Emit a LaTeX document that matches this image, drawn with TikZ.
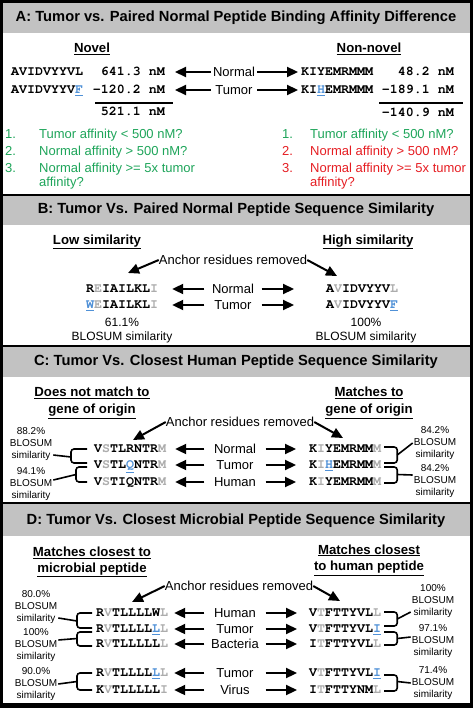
\documentclass[tikz,border=0pt]{standalone}
\usepackage[T1,TU]{fontenc}
\usepackage{fontspec}
\setmainfont{Liberation Sans}
\usepackage{tikz}
\usetikzlibrary{arrows.meta,calc}
\definecolor{hdrgray}{RGB}{194,194,194}
\definecolor{okgreen}{RGB}{30,165,90}
\definecolor{nored}{RGB}{230,30,35}
\definecolor{anchgray}{RGB}{172,172,172}
\definecolor{mutblue}{RGB}{80,145,215}
\newcommand\seqfont{\fontencoding{T1}\fontfamily{pcr}\fontseries{b}\selectfont}
\newcommand\anc[1]{\textcolor{anchgray}{#1}}
\newcommand\mut[1]{{\color{mutblue}\underline{#1}}}

\begin{document}
\begin{tikzpicture}[x=1pt,y=-1pt,
        hdr/.style={font=\fontsize{14.7}{17}\selectfont\bfseries},
        ttl/.style={font=\fontsize{13.2}{16.5}\selectfont\bfseries,align=center,inner sep=1pt},
        seq/.style={font=\seqfont\fontsize{13.3}{16}\selectfont,inner sep=1pt,text height=7.6pt,text depth=0pt},
        lbl/.style={font=\fontsize{13}{16}\selectfont,inner sep=0pt,text height=9.4pt,text depth=0pt},
        lst/.style={font=\fontsize{13}{14.5}\selectfont,align=left,inner sep=0pt,anchor=base west},
        pct/.style={font=\fontsize{10}{12}\selectfont,align=center,inner sep=1pt},
        bsim/.style={font=\fontsize{12}{14}\selectfont,align=center,inner sep=1pt},
        arr/.style={line width=2.2pt,-{Triangle[length=11pt,width=10pt]}},
        brk/.style={line width=1.6pt,rounded corners=3pt}]
    \useasboundingbox (0,0) rectangle (473,708);
    \fill[black] (0,0) rectangle (473,708);
    \fill[white] (3,3) rectangle (470,194);
    \fill[white] (3,196) rectangle (470,345);
    \fill[white] (3,347) rectangle (470,502);
    \fill[white] (3,504) rectangle (470,703);
    \fill[hdrgray] (3,3) rectangle (470,33);
    \fill[hdrgray] (3,196) rectangle (470,225);
    \fill[hdrgray] (3,347) rectangle (470,377);
    \fill[hdrgray] (3,504) rectangle (470,536);

    \node[hdr] (ha) at (236,18) {A: Tumor vs. Paired Normal Peptide Binding Affinity Difference};
    \node[hdr] (hb) at (236,210) {B: Tumor Vs. Paired Normal Peptide Sequence Similarity};
    \node[hdr] (hc) at (236,362) {C: Tumor Vs. Closest Human Peptide Sequence Similarity};
    \node[hdr] (hd) at (236,521) {D: Tumor Vs. Closest Microbial Peptide Sequence Similarity};

    \node[ttl] (nov) at (92,49) {\underline{Novel}};
    \node[ttl] (nnv) at (369,49) {\underline{Non-novel}};
    \node[seq,anchor=west] (pa1) at (10,72) {AVIDVYYVL};
    \node[seq,anchor=west] (pa2) at (10,90) {AVIDVYYV\mut{F}};
    \node[seq,anchor=east] (va1) at (166,72) {641.3 nM};
    \node[seq,anchor=east] (va2) at (166,90) {-120.2 nM};
    \node[seq,anchor=east] (va3) at (166,112) {521.1 nM};
    \node[lbl,minimum width=46pt] (la1) at (234,72) {Normal};
    \node[lbl,minimum width=46pt] (la2) at (234,90) {Tumor};
    \node[seq,anchor=west] (pa3) at (300,72) {KIYEMRMMM};
    \node[seq,anchor=west] (pa4) at (300,90) {KI\mut{H}EMRMMM};
    \node[seq,anchor=east] (va4) at (455,72) {48.2 nM};
    \node[seq,anchor=east] (va5) at (455,90) {-189.1 nM};
    \node[seq,anchor=east] (va6) at (455,113) {-140.9 nM};
    \draw[arr,shorten >=9pt] (la1) -- (va1);
    \draw[arr,shorten >=9pt] (la2) -- (va2);
    \draw[arr,shorten >=2pt] (la1) -- (pa3);
    \draw[arr,shorten >=2pt] (la2) -- (pa4);
    \draw[line width=1.5pt] (95,103) -- (173,103);
    \draw[line width=1.5pt] (379,103) -- (463,103);

    \node[lst,text=okgreen] (n1) at (5,139) {1.};
    \node[lst,text=okgreen] (q1) at (39,139) {Tumor affinity < 500 nM?};
    \node[lst,text=okgreen] (n2) at (5,156) {2.};
    \node[lst,text=okgreen] (q2) at (39,156) {Normal affinity > 500 nM?};
    \node[lst,text=okgreen] (n3) at (5,172.5) {3.};
    \node[lst,text=okgreen] (q3) at (39,187) {Normal affinity >= 5x tumor\\affinity?};
    \node[lst,text=okgreen] (n4) at (282,139) {1.};
    \node[lst,text=okgreen] (q4) at (310,139) {Tumor affinity < 500 nM?};
    \node[lst,text=nored] (n5) at (282,156) {2.};
    \node[lst,text=nored] (q5) at (310,156) {Normal affinity > 500 nM?};
    \node[lst,text=nored] (n6) at (282,172.5) {3.};
    \node[lst,text=nored] (q6) at (310,187) {Normal affinity >= 5x tumor\\affinity?};

    \node[ttl] (los) at (97,242) {\underline{Low similarity}};
    \node[ttl] (his) at (368,242) {\underline{High similarity}};
    \node[lbl] (anb) at (233,260) {Anchor residues removed};
    \node[seq,anchor=west] (sb1) at (85,289) {R\anc{E}IAILKL\anc{I}};
    \node[seq,anchor=west] (sb2) at (85,305) {\mut{W}\anc{E}IAILKL\anc{I}};
    \node[seq,anchor=west] (sb3) at (325,289) {A\anc{V}IDVYYV\anc{L}};
    \node[seq,anchor=west] (sb4) at (325,305) {A\anc{V}IDVYYV\mut{F}};
    \node[lbl,minimum width=57pt] (lb1) at (233,289) {Normal};
    \node[lbl,minimum width=57pt] (lb2) at (233,305) {Tumor};
    \node[bsim] (bs1) at (122,331) {61.1\%\\BLOSUM similarity};
    \node[bsim] (bs2) at (366,331) {100\%\\BLOSUM similarity};
    \coordinate (tb1) at (128,273);
    \coordinate (tb2) at (337,276);
    \draw[arr,line width=2pt] (anb.west) -- (tb1);
    \draw[arr,line width=2pt] (anb.east) -- (tb2);
    \draw[arr,shorten >=13pt] (lb1) -- (sb1);
    \draw[arr,shorten >=13pt] (lb2) -- (sb2);
    \draw[arr,shorten >=31pt] (lb1) -- (sb3);
    \draw[arr,shorten >=31pt] (lb2) -- (sb4);

    \node[ttl,font=\fontsize{13.2}{17}\selectfont\bfseries] (dnm) at (92,403) {\underline{Does not match to}\\\underline{gene of origin}};
    \node[ttl,font=\fontsize{13.2}{17}\selectfont\bfseries] (mgo) at (369,403) {\underline{Matches to}\\\underline{gene of origin}};
    \node[lbl] (anc) at (240,422) {Anchor residues removed};
    \node[seq,anchor=west] (sc1) at (93,449) {V\anc{S}TLRNTR\anc{M}};
    \node[seq,anchor=west] (sc2) at (93,465) {V\anc{S}TL\mut{Q}NTR\anc{M}};
    \node[seq,anchor=west] (sc3) at (93,482) {V\anc{S}TIQNTR\anc{M}};
    \node[seq,anchor=west] (sc4) at (308,449) {K\anc{I}YEMRMM\anc{M}};
    \node[seq,anchor=west] (sc5) at (308,465) {K\anc{I}\mut{H}EMRMM\anc{M}};
    \node[seq,anchor=west] (sc6) at (308,482) {K\anc{I}YEMRMM\anc{M}};
    \node[lbl,minimum width=61pt] (lc1) at (235,449) {Normal};
    \node[lbl,minimum width=61pt] (lc2) at (235,465) {Tumor};
    \node[lbl,minimum width=61pt] (lc3) at (235,482) {Human};
    \coordinate (tc1) at (133,440);
    \coordinate (tc2) at (343,438);
    \draw[arr,line width=2pt] (anc.west) -- (tc1);
    \draw[arr,line width=2pt] (anc.east) -- (tc2);
    \draw[arr,shorten >=8pt] (lc1) -- (sc1);
    \draw[arr,shorten >=8pt] (lc2) -- (sc2);
    \draw[arr,shorten >=8pt] (lc3) -- (sc3);
    \draw[arr,shorten >=12pt] (lc1) -- (sc4);
    \draw[arr,shorten >=12pt] (lc2) -- (sc5);
    \draw[arr,shorten >=12pt] (lc3) -- (sc6);
    \node[pct] (pc1) at (31,444) {88.2\%\\BLOSUM\\similarity};
    \node[pct] (pc2) at (31,484) {94.1\%\\BLOSUM\\similarity};
    \node[pct] (pc3) at (435,443) {84.2\%\\BLOSUM\\similarity};
    \node[pct] (pc4) at (435,481) {84.2\%\\BLOSUM\\similarity};
    \draw[brk] ([xshift=-6pt]sc1.west) -| ([shift={(-22pt,2pt)}]sc2.west) -- ([shift={(-6pt,2pt)}]sc2.west);
    \draw[brk] ([yshift=-11pt]pc1.east) -- ($(sc1.west)!.5!(sc2.west)+(-22,0)$);
    \draw[brk] ([shift={(-6pt,-2pt)}]sc2.west) -| ([xshift=-17pt]sc3.west) -- ([xshift=-6pt]sc3.west);
    \draw[brk] ([yshift=4pt]pc2.east) -- ($(sc2.west)!.5!(sc3.west)+(-17,1)$);
    \draw[brk] ([shift={(2pt,2pt)}]sc4.east) -| ([shift={(15pt,2pt)}]sc5.east) -- ([shift={(2pt,2pt)}]sc5.east);
    \draw[brk] ($(sc4.east)!.5!(sc5.east)+(15,-2)$) -- (pc3.west);
    \draw[brk] ([shift={(2pt,-2pt)}]sc5.east) -| ([shift={(15pt,-1pt)}]sc6.east) -- ([shift={(2pt,-1pt)}]sc6.east);
    \draw[brk] ($(sc5.east)!.5!(sc6.east)+(15,1)$) -- ([yshift=6pt]pc4.west);

    \node[ttl,font=\fontsize{13.2}{15.5}\selectfont\bfseries] (mcm) at (92,562) {\underline{Matches closest to}\\\underline{microbial peptide}};
    \node[ttl] (mch) at (369,560) {\underline{Matches closest}\\\underline{to human peptide}};
    \node[lbl] (and) at (239,586) {Anchor residues removed};
    \node[seq,anchor=west] (sd1) at (95,613) {R\anc{V}TLLLLW\anc{L}};
    \node[seq,anchor=west] (sd2) at (95,629) {R\anc{V}TLLLL\mut{L}\anc{L}};
    \node[seq,anchor=west] (sd3) at (95,644) {R\anc{V}TLLLLL\anc{L}};
    \node[seq,anchor=west] (sd4) at (95,673) {R\anc{V}TLLLL\mut{L}\anc{L}};
    \node[seq,anchor=west] (sd5) at (95,690) {K\anc{V}TLLLLL\anc{I}};
    \node[seq,anchor=west] (sd6) at (308,613) {V\anc{T}FTTYVL\anc{L}};
    \node[seq,anchor=west] (sd7) at (308,629) {V\anc{T}FTTYVL\mut{I}};
    \node[seq,anchor=west] (sd8) at (308,644) {I\anc{T}FTTYVL\anc{L}};
    \node[seq,anchor=west] (sd9) at (308,673) {V\anc{T}FTTYVL\mut{I}};
    \node[seq,anchor=west] (sd10) at (308,690) {I\anc{T}FTTYNM\anc{L}};
    \node[lbl,minimum width=61pt] (ld1) at (235,613) {Human};
    \node[lbl,minimum width=61pt] (ld2) at (235,629) {Tumor};
    \node[lbl,minimum width=61pt] (ld3) at (235,644) {Bacteria};
    \node[lbl,minimum width=61pt] (ld4) at (235,673) {Tumor};
    \node[lbl,minimum width=61pt] (ld5) at (235,690) {Virus};
    \coordinate (td1) at (132,602);
    \coordinate (td2) at (340,601);
    \draw[arr,line width=2pt] (and.west) -- (td1);
    \draw[arr,line width=2pt] (and.east) -- (td2);
    \draw[arr,shorten >=5pt] (ld1) -- (sd1);
    \draw[arr,shorten >=5pt] (ld2) -- (sd2);
    \draw[arr,shorten >=5pt] (ld3) -- (sd3);
    \draw[arr,shorten >=5pt] (ld4) -- (sd4);
    \draw[arr,shorten >=5pt] (ld5) -- (sd5);
    \draw[arr,shorten >=11pt] (ld1) -- (sd6);
    \draw[arr,shorten >=11pt] (ld2) -- (sd7);
    \draw[arr,shorten >=11pt] (ld3) -- (sd8);
    \draw[arr,shorten >=11pt] (ld4) -- (sd9);
    \draw[arr,shorten >=11pt] (ld5) -- (sd10);
    \node[pct] (pd1) at (36,607) {80.0\%\\BLOSUM\\similarity};
    \node[pct] (pd2) at (36,645) {100\%\\BLOSUM\\similarity};
    \node[pct] (pd3) at (36,684) {90.0\%\\BLOSUM\\similarity};
    \node[pct] (pd4) at (433,601) {100\%\\BLOSUM\\similarity};
    \node[pct] (pd5) at (433,641) {97.1\%\\BLOSUM\\similarity};
    \node[pct] (pd6) at (433,683) {71.4\%\\BLOSUM\\similarity};
    \draw[brk] ([xshift=-3pt]sd1.west) -| ([shift={(-18pt,1pt)}]sd2.west) -- ([shift={(-3pt,1pt)}]sd2.west);
    \draw[brk] ([yshift=-11pt]pd1.east) -- ($(sd1.west)!.5!(sd2.west)+(-18,0)$);
    \draw[brk] ([shift={(-3pt,-3pt)}]sd2.west) -| ([shift={(-18pt,-2pt)}]sd3.west) -- ([shift={(-3pt,-2pt)}]sd3.west);
    \draw[brk] ([yshift=5pt]pd2.east) -- ($(sd2.west)!.5!(sd3.west)+(-18,2)$);
    \draw[brk] ([xshift=-3pt]sd4.west) -| ([xshift=-18pt]sd5.west) -- ([xshift=-3pt]sd5.west);
    \draw[brk] (pd3.east) -- ($(sd4.west)!.5!(sd5.west)+(-18,0)$);
    \draw[brk] ([shift={(2pt,1pt)}]sd6.east) -| ([shift={(15pt,3pt)}]sd7.east) -- ([shift={(2pt,3pt)}]sd7.east);
    \draw[brk] ($(sd6.east)!.5!(sd7.east)+(15,-2)$) -- ([yshift=-11pt]pd4.west);
    \draw[brk] ([shift={(2pt,-3pt)}]sd7.east) -| ([shift={(15pt,-1pt)}]sd8.east) -- ([shift={(2pt,-1pt)}]sd8.east);
    \draw[brk] ($(sd7.east)!.5!(sd8.east)+(15,2)$) -- ([yshift=4pt]pd5.west);
    \draw[brk] ([shift={(2pt,-2pt)}]sd9.east) -| ([shift={(15pt,-1pt)}]sd10.east) -- ([shift={(2pt,-1pt)}]sd10.east);
    \draw[brk] ($(sd9.east)!.5!(sd10.east)+(15,0)$) -- (pd6.west);
\end{tikzpicture}
\end{document}
